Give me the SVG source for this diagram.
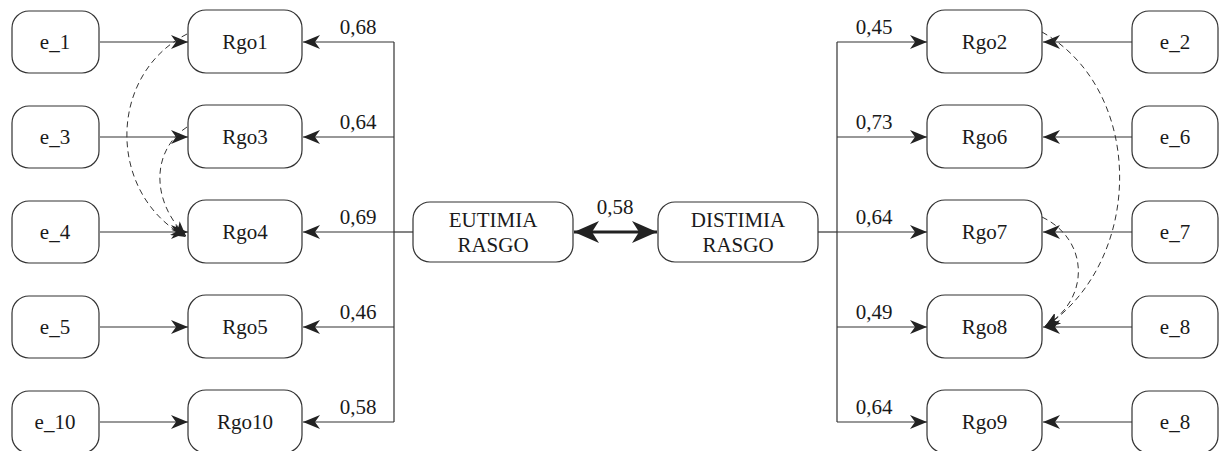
<svg xmlns="http://www.w3.org/2000/svg" width="1219" height="451" viewBox="0 0 1219 451">
<style>
.box{fill:#fff;stroke:#333;stroke-width:1.2}
.t{font-family:'Liberation Serif','Times New Roman',serif;font-size:21px;fill:#1a1a1a;text-anchor:middle}
.ln{fill:none;stroke:#333;stroke-width:1.2}
.ar{fill:none;stroke:#333;stroke-width:1.2;marker-end:url(#ah)}
.ds{fill:none;stroke:#333;stroke-width:1;stroke-dasharray:6,4;marker-end:url(#ahs)}
</style>
<defs>
<marker id="ah" markerUnits="userSpaceOnUse" markerWidth="18" markerHeight="14" viewBox="0 0 18 14" refX="17" refY="7" orient="auto">
<path d="M0,0 L17,7 L0,14 L5,7 Z" fill="#222"/>
</marker>
<marker id="ahs" markerUnits="userSpaceOnUse" markerWidth="16" markerHeight="12" viewBox="0 0 16 12" refX="15" refY="6" orient="auto">
<path d="M0,0 L15,6 L0,12 L4,6 Z" fill="#222"/>
</marker>
<marker id="ahb" markerUnits="userSpaceOnUse" markerWidth="26" markerHeight="22" viewBox="0 0 26 22" refX="25" refY="11" orient="auto-start-reverse">
<path d="M0,0 L25,11 L0,22 L7,11 Z" fill="#222"/>
</marker>
</defs>

<g id="connectors">
<line class="ar" x1="100" y1="42" x2="188" y2="42"/>
<line class="ar" x1="100" y1="137" x2="188" y2="137"/>
<line class="ar" x1="100" y1="232" x2="188" y2="232"/>
<line class="ar" x1="100" y1="327" x2="188" y2="327"/>
<line class="ar" x1="100" y1="422" x2="188" y2="422"/>
<line class="ln" x1="394" y1="42" x2="394" y2="422"/>
<line class="ln" x1="413" y1="232" x2="394" y2="232"/>
<line class="ar" x1="394" y1="42" x2="303" y2="42"/>
<line class="ar" x1="394" y1="137" x2="303" y2="137"/>
<line class="ar" x1="394" y1="232" x2="303" y2="232"/>
<line class="ar" x1="394" y1="327" x2="303" y2="327"/>
<line class="ar" x1="394" y1="422" x2="303" y2="422"/>
<line class="ln" x1="837" y1="42" x2="837" y2="422"/>
<line class="ln" x1="818" y1="232" x2="837" y2="232"/>
<line class="ar" x1="837" y1="42" x2="927" y2="42"/>
<line class="ar" x1="837" y1="137" x2="927" y2="137"/>
<line class="ar" x1="837" y1="232" x2="927" y2="232"/>
<line class="ar" x1="837" y1="327" x2="927" y2="327"/>
<line class="ar" x1="837" y1="422" x2="927" y2="422"/>
<line class="ar" x1="1132" y1="42" x2="1043" y2="42"/>
<line class="ar" x1="1132" y1="137" x2="1043" y2="137"/>
<line class="ar" x1="1132" y1="232" x2="1043" y2="232"/>
<line class="ar" x1="1132" y1="327" x2="1043" y2="327"/>
<line class="ar" x1="1132" y1="422" x2="1043" y2="422"/>
<line x1="574" y1="232" x2="657" y2="232" stroke="#222" stroke-width="3" marker-start="url(#ahb)" marker-end="url(#ahb)"/>
<path class="ds" d="M187,34 C107,75 107,194 186,237"/>
<path class="ds" d="M187,127 C152,150 150,200 186,236"/>
<path class="ds" d="M1042,32 C1145,90 1145,260 1045,327"/>
<path class="ds" d="M1042,217 C1090,240 1090,300 1045,326"/>
<text class="t" x="358" y="34">0,68</text>
<text class="t" x="358" y="129">0,64</text>
<text class="t" x="358" y="224">0,69</text>
<text class="t" x="358" y="319">0,46</text>
<text class="t" x="358" y="414">0,58</text>
<text class="t" x="874" y="34">0,45</text>
<text class="t" x="874" y="129">0,73</text>
<text class="t" x="874" y="224">0,64</text>
<text class="t" x="874" y="319">0,49</text>
<text class="t" x="874" y="414">0,64</text>
<text class="t" x="615" y="214">0,58</text>
</g>

<g id="e_1"><rect class="box" x="12" y="11" width="87" height="62" rx="17"/><text class="t" x="55" y="49">e_1</text></g>
<g id="e_3"><rect class="box" x="12" y="106" width="87" height="62" rx="17"/><text class="t" x="55" y="144">e_3</text></g>
<g id="e_4"><rect class="box" x="12" y="201" width="87" height="62" rx="17"/><text class="t" x="55" y="239">e_4</text></g>
<g id="e_5"><rect class="box" x="12" y="296" width="87" height="62" rx="17"/><text class="t" x="55" y="334">e_5</text></g>
<g id="e_10"><rect class="box" x="12" y="391" width="87" height="62" rx="17"/><text class="t" x="55" y="429">e_10</text></g>

<g id="Rgo1"><rect class="box" x="188" y="10" width="114" height="63" rx="18"/><text class="t" x="245" y="49">Rgo1</text></g>
<g id="Rgo3"><rect class="box" x="188" y="105" width="114" height="63" rx="18"/><text class="t" x="245" y="144">Rgo3</text></g>
<g id="Rgo4"><rect class="box" x="188" y="200" width="114" height="63" rx="18"/><text class="t" x="245" y="239">Rgo4</text></g>
<g id="Rgo5"><rect class="box" x="188" y="295" width="114" height="63" rx="18"/><text class="t" x="245" y="334">Rgo5</text></g>
<g id="Rgo10"><rect class="box" x="188" y="390" width="114" height="63" rx="18"/><text class="t" x="245" y="429">Rgo10</text></g>

<g id="EUTIMIA"><rect class="box" x="413" y="202" width="160" height="60" rx="17"/><text class="t" x="493" y="227">EUTIMIA</text><text class="t" x="493" y="252">RASGO</text></g>
<g id="DISTIMIA"><rect class="box" x="658" y="202" width="160" height="60" rx="17"/><text class="t" x="738" y="227">DISTIMIA</text><text class="t" x="738" y="252">RASGO</text></g>

<g id="Rgo2"><rect class="box" x="927" y="10" width="115" height="63" rx="18"/><text class="t" x="984.5" y="49">Rgo2</text></g>
<g id="Rgo6"><rect class="box" x="927" y="105" width="115" height="63" rx="18"/><text class="t" x="984.5" y="144">Rgo6</text></g>
<g id="Rgo7"><rect class="box" x="927" y="200" width="115" height="63" rx="18"/><text class="t" x="984.5" y="239">Rgo7</text></g>
<g id="Rgo8"><rect class="box" x="927" y="295" width="115" height="63" rx="18"/><text class="t" x="984.5" y="334">Rgo8</text></g>
<g id="Rgo9"><rect class="box" x="927" y="390" width="115" height="63" rx="18"/><text class="t" x="984.5" y="429">Rgo9</text></g>

<g id="e_2"><rect class="box" x="1132" y="11" width="86" height="62" rx="17"/><text class="t" x="1175" y="49">e_2</text></g>
<g id="e_6"><rect class="box" x="1132" y="106" width="86" height="62" rx="17"/><text class="t" x="1175" y="144">e_6</text></g>
<g id="e_7"><rect class="box" x="1132" y="201" width="86" height="62" rx="17"/><text class="t" x="1175" y="239">e_7</text></g>
<g id="e_8a"><rect class="box" x="1132" y="296" width="86" height="62" rx="17"/><text class="t" x="1175" y="334">e_8</text></g>
<g id="e_8b"><rect class="box" x="1132" y="391" width="86" height="62" rx="17"/><text class="t" x="1175" y="429">e_8</text></g>
</svg>
